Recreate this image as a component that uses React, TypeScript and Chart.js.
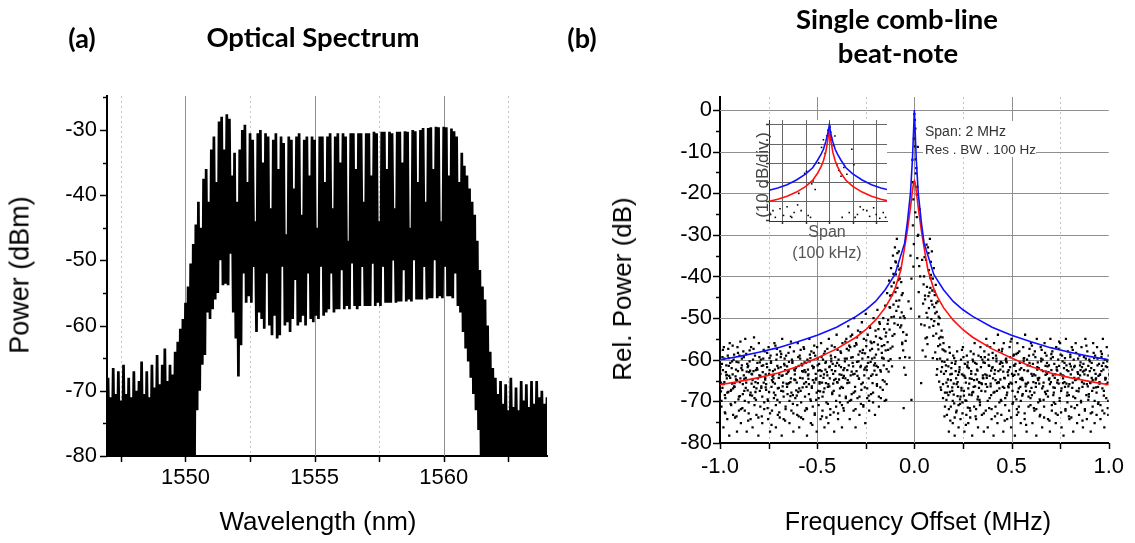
import React, { useEffect, useRef } from "react";
import { Chart, registerables } from "chart.js";

Chart.register(...registerables);

const SANS = "'Liberation Sans', Arial, Helvetica, sans-serif";
const TITLE = "Lato, 'Open Sans', sans-serif";

// ---------------- (a) Optical spectrum ----------------
const specStartNm = 1547.0;
const specStepNm = 0.1;
// top of the comb lines, one value every 0.1 nm from 1547.0 to 1564.0
const specPeakDbm = [
  -68, -71, -66.5, -70.5, -67, -71.5, -66, -70.5, -68, -71,
  -67, -70, -68.5, -65.5, -70.5, -67, -71, -66, -69.5, -64.5,
  -69, -66, -63.5, -68.5, -66, -67.5, -64, -62.5, -60.5, -59,
  -56.5, -54, -50.5, -47.5, -44.5, -41, -45, -37.5, -36, -41,
  -33, -31, -38, -28.7, -28, -33, -27.6, -28.3, -37, -33.5,
  -41, -33, -30, -29.2, -38, -30.5, -31.5, -44, -30.5, -30,
  -35, -30.5, -31, -42, -31.5, -30.5, -36, -31, -32, -46,
  -31, -31.5, -39, -31, -30.5, -43, -31.5, -31, -37, -31,
  -31.5, -45, -31, -31, -38, -31, -30.5, -42, -31, -30.5,
  -35, -30.5, -31, -47, -30.5, -30.5, -36, -30.5, -30.5, -41,
  -30.5, -30.5, -37, -30.3, -30.5, -44, -30.3, -30.3, -36, -30.3,
  -30.5, -42, -30.3, -30.3, -35, -30.2, -30.3, -45, -30, -30.2,
  -38, -30, -29.7, -41, -29.7, -29.6, -36, -29.5, -29.6, -44,
  -29.5, -29.6, -37, -29.8, -30.2, -31, -38, -33.5, -35.5, -37,
  -39, -41, -43, -47, -51.5, -54, -56, -60, -64, -66.5,
  -68, -70.5, -68.5, -72, -69, -73, -68, -72.5, -69.5, -73,
  -68.5, -71.5, -69, -72.5, -68.5, -72, -68.5, -71, -70, -72, -71,
];
// bottom of the trace between comb lines, same sampling
const specFloorDbm = [
  -81, -81, -81, -81, -81, -81, -81, -81, -81, -81,
  -81, -81, -81, -81, -81, -81, -81, -81, -81, -81,
  -81, -81, -81, -81, -81, -81, -81, -81, -81, -81,
  -81, -81, -81, -81, -73, -70, -66, -64.5, -58, -59,
  -57.5, -56, -55, -50, -53.8, -53.6, -53.8, -49, -58, -62,
  -67.8, -63, -52, -56.5, -55.5, -56.5, -51, -61, -58, -59,
  -60.5, -52, -60, -61.5, -58.5, -62, -61.5, -51, -60, -59.5,
  -61, -59, -53, -60, -59.5, -58.5, -60, -52, -59, -59.5,
  -58.5, -59, -51, -58.5, -58, -57.5, -52, -58, -57.5, -57.5,
  -51.5, -57.5, -57, -57.5, -50.5, -57, -57.5, -57, -51, -57,
  -57, -57, -50.5, -57, -56.5, -57, -51, -56.5, -56.5, -56.5,
  -50, -56.5, -56.3, -56.3, -51.5, -56.3, -56, -56.3, -50, -56,
  -56, -56, -51, -56, -55.8, -55.8, -50, -55.8, -55.5, -55.8,
  -51, -55.5, -55.5, -55.8, -52, -57, -58, -61, -63.5, -65.5,
  -68, -70.5, -73, -76, -81, -81, -81, -81, -81, -81,
  -81, -81, -81, -81, -81, -81, -81, -81, -81, -81,
  -81, -81, -81, -81, -81, -81, -81, -81, -81, -81, -81,
];
const specXTicks = [1550, 1555, 1560];
const specXMinor = [1547.5, 1552.5, 1557.5, 1562.5];
const specYTicks = [-80, -70, -60, -50, -40, -30];
const specYMinor = [-75, -65, -55, -45, -35, -25];

// ---------------- (b) Beat note ----------------
const beatStartMHz = -1;
const beatStepMHz = 0.01;
// measured noise points, one value per column every 0.01 MHz (null = no point)
const beatNoise1 = [
  -58, -61, -57, -63, -59, -56, -62, -60, -64, -57, -59, -62, -58, -55, -61, -63, -57, -60, -59, -62,
  -56, -60, -63, -58, -61, -57, -59, -64, -56, -60, -62, -58, -55, -61, -59, -63, -57, -60, -58, -62,
  -56, -59, -61, -57, -63, -60, -55, -58, -62, -59, -57, -61, -56, -60, -58, -63, -55, -59, -61, -57,
  -54, -60, -58, -56, -62,
  -55, -52, -57, -54, -50, -56, -53, -58, -51, -55, -49, -54, -52, -56, -50, -53, -48, -51, -55,
  -50, -47, -44, -41, -38, -35, -33, -31, -34, -38, -44, -50,
  -54, -46, -35, -12, -1, -14, -30, -40, -36,
  -40, -36, -33, -31, -34, -38, -42, -46, -50, -53, -56,
  -58, -60, -57, -62, -59, -61, -58, -63, -60, -57, -61, -59, -62, -58, -60, -56, -61, -59, -57, -60,
  -58, -55, -60, -57, -62, -56, -59, -54, -61, -58, -56, -60, -63, -57, -55, -59, -61, -56, -58, -62,
  -57, -54, -60, -59, -56, -61, -58, -55, -62, -57, -60, -56, -59, -63, -55, -58, -61, -57, -60, -56,
  -59, -62, -55, -58, -61, -57, -60, -56, -63, -59, -57, -61, -55, -58, -60, -62, -56, -59, -57, -61,
  -58, -55, -60, -57, -59,
];
const beatNoise2 = [
  -66, -63, -69, -65, -62, -68, -64, -67, -61, -70, -65, -63, -68, -66, -62, -69, -64, -67, -63, -65,
  -68, -62, -66, -64, -70, -63, -67, -65, -69, -62, -64, -68, -66, -63, -67, -61, -65, -69, -64, -66,
  -62, -68, -65, -63, -67, -64, -70, -62, -66, -65, -68, -63, -66, -64, -61, -67, -65, -63, -68, -62,
  -66, -64, -67, -63, -65,
  -63, -66, -60, -64, -67, -61, -65, -62, -66, -59, -63, -65, -61, -64, -60, -62, -58, -63, -60,
  -57, -54, -51, -48, -45, -42, -40, -38, -41, -45, -50, -56,
  null, -60, -41, -22, -5, -19, -38, -52, -47,
  -46, -43, -39, -37, -41, -45, -49, -52, -55, -58, -61,
  -66, -69, -64, -68, -71, -65, -67, -70, -64, -68, -66, -72, -65, -69, -67, -64, -70, -66, -68, -65,
  -64, -67, -62, -69, -65, -63, -68, -66, -61, -67, -65, -69, -63, -66, -68, -62, -70, -64, -67, -65,
  -63, -68, -66, -62, -69, -64, -67, -65, -70, -63, -66, -62, -68, -65, -63, -69, -64, -66, -62, -68,
  -65, -67, -63, -69, -64, -66, -62, -68, -65, -63, -67, -64, -69, -62, -66, -68, -63, -65, -67, -64,
  -62, -68, -65, -66, -63,
];
const beatNoise3 = [
  -62, -67, -60, -64, -68, -61, -66, -59, -65, -63, -69, -60, -64, -67, -62, -58, -66, -63, -68, -61,
  -64, -67, -60, -65, -62, -68, -61, -63, -66, -59, -67, -62, -64, -60, -66, -63, -69, -61, -65, -62,
  -68, -60, -63, -66, -61, -64, -59, -67, -62, -65, -60, -66, -63, -68, -61, -64, -62, -60, -66, -63,
  -61, -65, -62, -67, -60,
  -60, -58, -64, -61, -57, -63, -59, -62, -60, -64, -57, -61, -58, -60, -56, -59, -62, -55, -57,
  -60, -58, -56, -53, -50, -47, -44, -43, -46, -52, -58, null,
  null, null, -48, -28, -9, -26, -44, null, -58,
  -52, -49, -45, -43, -47, -51, -54, -57, -60, -62, -58,
  -63, -65, -68, -61, -66, -63, -69, -62, -67, -64, -70, -62, -66, -63, -68, -61, -65, -67, -62, -64,
  -61, -64, -59, -66, -62, -68, -60, -63, -65, -61, -67, -60, -64, -62, -66, -59, -63, -68, -61, -65,
  -60, -66, -63, -61, -67, -59, -64, -62, -66, -60, -63, -68, -61, -65, -60, -64, -67, -62, -66, -59,
  -64, -61, -66, -63, -59, -67, -62, -65, -60, -64, -62, -66, -60, -64, -63, -61, -67, -65, -60, -66,
  -63, -61, -65, -62, -64,
];
const beatNoise4 = [
  -72, -77, -70, -75, -79, -68, -74, -71, -78, -73, -76, -69, -73, -78, -71, -75, -77, -70, -74, -79,
  -72, -76, -71, -68, -75, -78, -73, -70, -77, -74, -71, -79, -75, -72, -69, -76, -73, -78, -70, -74,
  -77, -71, -75, -73, -79, -69, -76, -72, -74, -78, -70, -75, -73, -77, -71, -76, -74, -69, -78, -72,
  -75, -71, -77, -73, -70,
  -71, -75, -69, -73, -77, -70, -74, -68, -72, -76, -70, -73, -69, -71, -74, -67, -72, -70, -68,
  -66, -63, -61, -58, -55, -52, -49, -48, -53, -57, null, null,
  null, null, null, -33, -16, -31, null, null, null,
  -60, -57, -53, -51, -55, -59, -63, -66, -68, -70, -72,
  -74, -78, -72, -76, -79, -73, -77, -75, -71, -78, -74, -76, -73, -79, -72, -75, -77, -71, -74, -78,
  -73, -77, -70, -75, -79, -72, -76, -71, -74, -78, -70, -75, -73, -77, -71, -79, -74, -72, -76, -69,
  -75, -78, -72, -70, -76, -73, -79, -71, -74, -77, -72, -69, -75, -78, -73, -71, -76, -74, -70, -77,
  -79, -73, -71, -75, -72, -78, -70, -76, -74, -71, -77, -73, -75, -69, -78, -72, -76, -74, -71, -75,
  -73, -77, -70, -74, -72,
];
const beatNoise5 = [
  -68, -58, -73, -64, -60, -71, -57, -66, -74, -61, -56, -72, -65, -59, -75, -63, -69, -55, -70, -66,
  -61, -74, -58, -67, -72, -60, -76, -64, -57, -70, -73, -59, -68, -75, -62, -66, -56, -71, -63, -69,
  -74, -58, -67, -61, -72, -65, -60, -76, -57, -70, -63, -68, -74, -59, -66, -71, -62, -57, -73, -65,
  -58, -69, -64, -72, -56,
  -66, -57, -70, -62, -68, -55, -65, -71, -58, -67, -62, -69, -56, -66, -63, -64, -53, -67, -60,
  -53, -70, -58, -45, -62, -50, -37, -52, -60, -49, -72, -64,
  null, null, -70, -38, -25, -36, -50, -66, null,
  -45, -55, -48, -40, -60, -44, -64, -50, -67, -55, -74,
  -70, -62, -75, -67, -60, -73, -64, -71, -58, -69, -76, -61, -72, -65, -59, -74, -63, -70, -66, -61,
  -68, -57, -72, -63, -60, -74, -66, -58, -70, -62, -75, -61, -67, -56, -71, -64, -59, -73, -65, -69,
  -60, -76, -63, -68, -57, -72, -66, -61, -74, -58, -70, -64, -62, -75, -59, -67, -71, -63, -56, -73,
  -66, -60, -69, -74, -62, -58, -72, -65, -68, -61, -75, -63, -57, -70, -66, -73, -60, -67, -71, -64,
  -59, -69, -62, -72, -65,
];
const beatNoise6 = [
  -64, -60, -66, -62, -58, -65, -61, -67, -63, -59, -66, -62, -60, -65, -68, -61, -64, -58, -66, -63,
  -60, -67, -62, -65, -59, -64, -61, -66, -63, -58, -65, -60, -67, -62, -64, -59, -66, -61, -63, -68,
  -60, -65, -62, -58, -66, -63, -61, -67, -59, -64, -62, -66, -60, -65, -63, -58, -67, -61, -64, -60,
  -66, -62, -59, -65, -61,
  -58, -62, -55, -60, -64, -57, -61, -54, -59, -63, -56, -60, -53, -58, -62, -55, -57, -52, -59,
  -62, -55, -52, -48, -43, -40, -37, -35, -39, -42, -54, -60,
  null, null, null, -18, -3, -21, null, null, null,
  -36, -33, -35, -41, -44, -48, -47, -52, -57, -61, -64,
  -62, -67, -59, -64, -69, -61, -66, -63, -68, -60, -65, -62, -69, -64, -61, -67, -63, -66, -60, -65,
  -60, -65, -62, -67, -59, -64, -61, -66, -63, -58, -65, -61, -67, -60, -64, -62, -66, -59, -63, -65,
  -61, -67, -62, -58, -64, -66, -60, -63, -65, -61, -67, -59, -64, -62, -66, -60, -65, -63, -58, -64,
  -61, -66, -62, -67, -60, -63, -65, -59, -64, -62, -66, -60, -63, -67, -61, -65, -59, -64, -62, -66,
  -60, -63, -65, -61, -64,
];
const beatNoise7 = [
  -70, -66, -73, -68, -64, -71, -67, -74, -65, -69, -72, -66, -70, -63, -73, -68, -65, -71, -67, -74,
  -64, -69, -72, -66, -70, -73, -65, -68, -71, -67, -74, -64, -69, -72, -66, -70, -68, -73, -65, -71,
  -67, -74, -63, -69, -72, -66, -70, -65, -73, -68, -71, -64, -69, -67, -74, -66, -72, -68, -65, -70,
  -73, -67, -71, -64, -69,
  -65, -70, -63, -68, -72, -64, -69, -66, -71, -62, -67, -70, -64, -68, -61, -66, -69, -63, -65,
  -70, -66, -63, -60, -57, -54, -46, -41, -50, -56, -62, null,
  null, null, null, -7, -12, -9, -24, null, -42,
  -55, -50, -44, -46, -52, -49, -60, -55, -63, -66, -68,
  -68, -72, -65, -70, -74, -66, -71, -69, -73, -64, -70, -67, -74, -68, -65, -72, -69, -71, -66, -73,
  -66, -70, -64, -72, -68, -65, -73, -67, -70, -63, -71, -68, -66, -74, -64, -69, -72, -67, -70, -65,
  -73, -66, -69, -71, -64, -68, -72, -65, -70, -67, -74, -63, -69, -66, -71, -68, -73, -65, -70, -67,
  -64, -72, -68, -66, -74, -69, -65, -71, -67, -70, -63, -72, -66, -69, -73, -65, -70, -68, -64, -71,
  -67, -73, -66, -70, -68,
];
// column shift of each noise series (fraction of a 0.01 MHz column) and reading offset (dB)
const beatNoiseShift = [0, 0.5, 0.25, 0.75, 0.5, 0.25, 0.75];
const beatNoiseLiftDb = [0, 0.5, 0.25, 0.75, 0.375, 0.625, 0.125];

const beatCurveX = [
  -1, -0.9, -0.8, -0.7, -0.6, -0.5, -0.4, -0.3, -0.25, -0.2, -0.15, -0.12, -0.1, -0.07, -0.05, -0.036, -0.02, -0.01, -0.004,
  0, 0.004, 0.01, 0.02, 0.036, 0.05, 0.07, 0.1, 0.12, 0.15, 0.2, 0.25, 0.3, 0.4, 0.5, 0.6, 0.7, 0.8, 0.9, 1,
];
const beatBlueDb = [
  -60, -59.2, -58.2, -57.1, -55.7, -54.1, -52.2, -49.6, -48, -46, -43.2, -41, -39.5, -35, -32, -27, -20, -12, -5,
  0, -5, -12, -20, -27, -32, -35, -39.5, -41, -43.2, -46, -48, -49.6, -52.2, -54.1, -55.7, -57.1, -58.2, -59.2, -60,
];
const beatRedDb = [
  -66, -65.2, -64.3, -63.2, -61.6, -59.6, -57.4, -54.6, -52.8, -50.5, -47.5, -45, -43, -38.5, -33, -29, -23.5, -19.5, -17.5,
  -17, -17.5, -19.5, -23.5, -29, -33, -38.5, -43, -45, -47.5, -50.5, -52.8, -54.6, -57.4, -59.6, -61.6, -63.2, -64.3, -65.2, -66,
];
const beatXTicks = [-1, -0.5, 0, 0.5, 1];
const beatXMinor = [-0.75, -0.25, 0.25, 0.75];
const beatYTicks = [-80, -70, -60, -50, -40, -30, -20, -10, 0];
const beatYMinor = [-75, -65, -55, -45, -35, -25, -15, -5];

// inset (span 100 kHz, 10 dB/div)
const insetX = [-2.57, -2.2, -1.8, -1.4, -1, -0.7, -0.5, -0.35, -0.25, -0.15, -0.08, -0.03, 0, 0.03, 0.08, 0.15, 0.25, 0.35, 0.5, 0.7, 1, 1.4, 1.8, 2.2, 2.46];
const insetBlueDb = [-34.4, -33.2, -31.5, -29, -25.8, -22.5, -18.7, -15.5, -13, -9, -5.5, -2.5, -0.5, -2.5, -5.5, -9, -13, -15.5, -18.7, -22.5, -25.8, -29, -31.5, -33.2, -34];
const insetRedDb = [-40.2, -39, -37.5, -35.3, -32.3, -29, -25.5, -22, -19, -14.5, -9.5, -5, -2.5, -5, -9.5, -14.5, -19, -22, -25.5, -29, -32.3, -35.3, -37.5, -39, -39.8];
const insetDotX = [-2.5, -2.4, -2.3, -2.1, -1.95, -1.8, -1.65, -1.5, -1.35, -1.3, -1.2, -1.05, -0.97, -0.9, -0.75, -0.69, -0.6, -0.45, -0.33, -0.25, -0.18, -0.11, -0.06, 0.02, 0.06, 0.1, 0.17, 0.24, 0.32, 0.4, 0.5, 0.62, 0.75, 0.85, 0.96, 1.05, 1.2, 1.32, 1.45, 1.6, 1.72, 1.89, 2, 2.15, 2.3, 2.4, -1.6, -0.8, 0.55, 1.1];
const insetDotDb = [-47, -45, -48.5, -44, -47.5, -43, -48, -46, -42, -36, -45, -25.5, -24.5, -47.5, -31, -29.5, -34, -20, -12, -8, -15, -6, -3, -1.5, -4, -8, -11, -6, -21, -24, -27, -22.5, -26, -46, -13, -21, -47, -43, -44.5, -45, -48, -43.5, -47, -49, -46, -48.5, -48.5, -48.5, -48.5, -48.5];
const insetXGrid = [-2, -1, 0, 1, 2];
const insetYGrid = [0, -10, -20, -30, -40, -50];

// ---------------- helpers ----------------
type LineSet = { values: number[]; color: string; dash: number[] };
type Deco = {
  background?: string;
  vLines?: LineSet[];
  hLines?: LineSet[];
  xTicks?: { values: number[]; len: number }[];
  yTicks?: { values: number[]; len: number }[];
  tickColor?: string;
};

function decoPlugin(deco: Deco) {
  return {
    id: "deco",
    beforeDraw(chart: any) {
      if (!deco.background) return;
      const { ctx, chartArea: a } = chart;
      ctx.save();
      ctx.fillStyle = deco.background;
      ctx.fillRect(a.left, a.top, a.right - a.left, a.bottom - a.top);
      ctx.restore();
    },
    beforeDatasetsDraw(chart: any) {
      const { ctx, chartArea: a, scales } = chart;
      const xs = scales.x;
      const ys = scales.y;
      ctx.save();
      ctx.lineWidth = 1;
      (deco.vLines || []).forEach((g) => {
        ctx.strokeStyle = g.color;
        ctx.setLineDash(g.dash);
        g.values.forEach((v) => {
          const p = Math.round(xs.getPixelForValue(v)) + 0.5;
          ctx.beginPath();
          ctx.moveTo(p, a.top);
          ctx.lineTo(p, a.bottom);
          ctx.stroke();
        });
      });
      (deco.hLines || []).forEach((g) => {
        ctx.strokeStyle = g.color;
        ctx.setLineDash(g.dash);
        g.values.forEach((v) => {
          const p = Math.round(ys.getPixelForValue(v)) + 0.5;
          ctx.beginPath();
          ctx.moveTo(a.left, p);
          ctx.lineTo(a.right, p);
          ctx.stroke();
        });
      });
      ctx.setLineDash([]);
      ctx.strokeStyle = deco.tickColor || "#000";
      ctx.lineWidth = 1.5;
      (deco.xTicks || []).forEach((t) => {
        t.values.forEach((v) => {
          const p = Math.round(xs.getPixelForValue(v)) + 0.5;
          ctx.beginPath();
          ctx.moveTo(p, a.bottom);
          ctx.lineTo(p, a.bottom + t.len);
          ctx.stroke();
        });
      });
      (deco.yTicks || []).forEach((t) => {
        t.values.forEach((v) => {
          const p = Math.round(ys.getPixelForValue(v)) + 0.5;
          ctx.beginPath();
          ctx.moveTo(a.left - t.len, p);
          ctx.lineTo(a.left, p);
          ctx.stroke();
        });
      });
      ctx.restore();
    },
  };
}

function axis(opts: {
  min: number;
  max: number;
  ticks: number[];
  fmt: (v: number) => string;
  size: number;
  pad: number;
  fit: (s: any) => void;
  show: boolean;
  borderColor?: string;
  borderWidth?: number;
}) {
  return {
    type: "linear",
    min: opts.min,
    max: opts.max,
    afterBuildTicks: (s: any) => {
      s.ticks = opts.ticks.map((v) => ({ value: v }));
    },
    afterFit: opts.fit,
    grid: { display: false, drawTicks: false },
    border: { display: true, color: opts.borderColor || "#000", width: opts.borderWidth || 2 },
    ticks: {
      display: opts.show,
      autoSkip: false,
      maxRotation: 0,
      padding: opts.pad,
      color: "#000",
      font: { family: SANS, size: opts.size },
      callback: (v: any) => opts.fmt(Number(v)),
    },
  };
}

function useChart(make: () => any) {
  const ref = useRef<HTMLCanvasElement | null>(null);
  useEffect(() => {
    if (!ref.current) return;
    const chart = new Chart(ref.current, make());
    return () => chart.destroy();
  }, []);
  return ref;
}

function SpectrumChart() {
  const ref = useChart(() => {
    const pts: { x: number; y: number }[] = [];
    specPeakDbm.forEach((p, i) => {
      const x = specStartNm + i * specStepNm;
      pts.push({ x, y: p });
      pts.push({ x: x + specStepNm / 2, y: specFloorDbm[i] });
    });
    return {
      type: "line",
      data: {
        datasets: [
          { data: pts, borderColor: "#000", borderWidth: 2.7, pointRadius: 0, tension: 0, fill: false, borderJoinStyle: "miter" },
        ],
      },
      options: {
        responsive: false,
        animation: false,
        devicePixelRatio: 1,
        layout: { padding: { left: 37, top: 96, right: 23, bottom: 47 } },
        plugins: { legend: { display: false }, tooltip: { enabled: false } },
        scales: {
          x: axis({ min: 1546.96, max: 1564, ticks: specXTicks, fmt: (v) => String(v), size: 22, pad: 9, fit: (s) => { s.height = 40; }, show: true }),
          y: axis({ min: -80, max: -24.8, ticks: specYTicks, fmt: (v) => String(v), size: 22, pad: 10, fit: (s) => { s.width = 70; }, show: true }),
        },
      },
      plugins: [
        decoPlugin({
          vLines: [
            { values: specXTicks, color: "#8f8f8f", dash: [] },
            { values: specXMinor, color: "#c4c4c4", dash: [2, 3] },
          ],
          xTicks: [{ values: specXTicks, len: 6 }, { values: specXMinor, len: 6 }],
          yTicks: [{ values: specYTicks, len: 7 }, { values: specYMinor, len: 4 }],
        }),
      ],
    };
  });
  return <canvas ref={ref} width={570} height={543} style={{ position: "absolute", left: 0, top: 0 }} />;
}

function BeatChart() {
  const ref = useChart(() => {
    const dots: { x: number; y: number }[] = [];
    [beatNoise1, beatNoise2, beatNoise3, beatNoise4, beatNoise5, beatNoise6, beatNoise7].forEach((arr, k) => {
      arr.forEach((v, i) => {
        if (v !== null)
          dots.push({ x: beatStartMHz + (i + beatNoiseShift[k]) * beatStepMHz, y: (v as number) + beatNoiseLiftDb[k] });
      });
    });
    const blue = beatCurveX.map((x, i) => ({ x, y: beatBlueDb[i] }));
    const red = beatCurveX.map((x, i) => ({ x, y: beatRedDb[i] }));
    return {
      type: "scatter",
      data: {
        datasets: [
          { data: blue, showLine: true, borderColor: "#1010ff", borderWidth: 1.6, pointRadius: 0, tension: 0 },
          { data: red, showLine: true, borderColor: "#ff1010", borderWidth: 1.6, pointRadius: 0, tension: 0 },
          { data: dots, showLine: false, pointStyle: "rect", pointRadius: 1.6, pointBorderWidth: 0, backgroundColor: "#000", borderColor: "#000" },
        ],
      },
      options: {
        responsive: false,
        animation: false,
        devicePixelRatio: 1,
        layout: { padding: { left: 80, top: 97, right: 22, bottom: 60 } },
        plugins: { legend: { display: false }, tooltip: { enabled: false } },
        scales: {
          x: axis({ min: -1, max: 1, ticks: beatXTicks, fmt: (v) => v.toFixed(1), size: 22, pad: 11, fit: (s) => { s.height = 40; }, show: true }),
          y: axis({ min: -80, max: 3.1, ticks: beatYTicks, fmt: (v) => String(v), size: 22, pad: 8, fit: (s) => { s.width = 70; }, show: true }),
        },
      },
      plugins: [
        decoPlugin({
          vLines: [
            { values: [-0.5, 0, 0.5], color: "#8f8f8f", dash: [] },
            { values: beatXMinor, color: "#c4c4c4", dash: [2, 3] },
          ],
          hLines: [{ values: [-70, -60, -50, -40, -30, -20, -10, 0], color: "#8f8f8f", dash: [] }],
          xTicks: [{ values: beatXTicks, len: 6 }, { values: beatXMinor, len: 6 }],
          yTicks: [{ values: beatYTicks, len: 7 }, { values: beatYMinor, len: 4 }],
        }),
      ],
    };
  });
  return <canvas ref={ref} width={565} height={543} style={{ position: "absolute", left: 570, top: 0 }} />;
}

function InsetChart() {
  const ref = useChart(() => {
    const blue = insetX.map((x, i) => ({ x, y: insetBlueDb[i] }));
    const red = insetX.map((x, i) => ({ x, y: insetRedDb[i] }));
    const dots = insetDotX.map((x, i) => ({ x, y: insetDotDb[i] }));
    return {
      type: "scatter",
      data: {
        datasets: [
          { data: blue, showLine: true, borderColor: "#1010ff", borderWidth: 1.6, pointRadius: 0, tension: 0 },
          { data: red, showLine: true, borderColor: "#ff1010", borderWidth: 1.6, pointRadius: 0, tension: 0 },
          { data: dots, showLine: false, pointStyle: "rect", pointRadius: 1.1, pointBorderWidth: 0, backgroundColor: "#000" },
        ],
      },
      options: {
        responsive: false,
        animation: false,
        devicePixelRatio: 1,
        layout: { padding: { left: 24, top: 10, right: 13, bottom: 9 } },
        plugins: { legend: { display: false }, tooltip: { enabled: false } },
        scales: {
          x: axis({ min: -2.57, max: 2.46, ticks: insetXGrid, fmt: () => "", size: 8, pad: 0, fit: (s) => { s.height = 5; }, show: false, borderColor: "#333", borderWidth: 1 }),
          y: axis({ min: -50.4, max: 2.3, ticks: insetYGrid, fmt: () => "", size: 8, pad: 0, fit: (s) => { s.width = 5; }, show: false, borderColor: "#333", borderWidth: 1 }),
        },
      },
      plugins: [
        decoPlugin({
          background: "#fff",
          vLines: [{ values: insetXGrid, color: "#666", dash: [] }],
          hLines: [{ values: insetYGrid.slice(0, 5), color: "#666", dash: [] }],
          xTicks: [{ values: insetXGrid, len: 3 }],
          yTicks: [{ values: insetYGrid, len: 3 }],
          tickColor: "#333",
        }),
      ],
    };
  });
  return <canvas ref={ref} width={160} height={125} style={{ position: "absolute", left: 740, top: 110 }} />;
}

function Text(props: { x: number; y: number; text: string; size: number; bold?: boolean; family?: string; color?: string; rotate?: boolean }) {
  return (
    <div
      style={{
        position: "absolute",
        left: props.x,
        top: props.y,
        transform: `translate(-50%, -50%)${props.rotate ? " rotate(-90deg)" : ""}`,
        whiteSpace: "nowrap",
        lineHeight: 1,
        fontSize: props.size,
        fontWeight: props.bold ? 700 : 400,
        fontFamily: props.family || SANS,
        color: props.color || "#000",
      }}
    >
      {props.text}
    </div>
  );
}

export default function App() {
  return (
    <div style={{ position: "absolute", left: 0, top: 0, width: 1135, height: 543, background: "#fff", overflow: "hidden" }}>
      <SpectrumChart />
      <BeatChart />
      <InsetChart />
      <Text x={82} y={37} text="(a)" size={27} bold family={TITLE} />
      <Text x={313} y={37} text="Optical Spectrum" size={27.5} bold family={TITLE} />
      <Text x={582} y={37} text="(b)" size={27} bold family={TITLE} />
      <Text x={897} y={19} text="Single comb-line" size={27.5} bold family={TITLE} />
      <Text x={898} y={53} text="beat-note" size={27.5} bold family={TITLE} />
      <Text x={20} y={275} text="Power (dBm)" size={27} rotate />
      <Text x={318} y={521} text="Wavelength (nm)" size={26} />
      <Text x={622} y={289} text="Rel. Power (dB)" size={26} rotate />
      <Text x={918} y={521} text="Frequency Offset (MHz)" size={25} />
      <Text x={762} y={175} text="(10 dB/div.)" size={17} color="#444" rotate />
      <Text x={827} y={232} text="Span" size={16} color="#555" />
      <Text x={827} y={253} text="(100 kHz)" size={16} color="#555" />
      <div style={{ position: "absolute", left: 923, top: 121, width: 113, height: 36, background: "#fff" }}>
        <div style={{ position: "absolute", left: 2, top: 3, fontFamily: SANS, fontSize: 14, color: "#333", whiteSpace: "nowrap", lineHeight: 1 }}>Span: 2 MHz</div>
        <div style={{ position: "absolute", left: 2, top: 22, fontFamily: SANS, fontSize: 13.5, color: "#333", whiteSpace: "nowrap", lineHeight: 1 }}>Res . BW . 100 Hz</div>
      </div>
    </div>
  );
}
